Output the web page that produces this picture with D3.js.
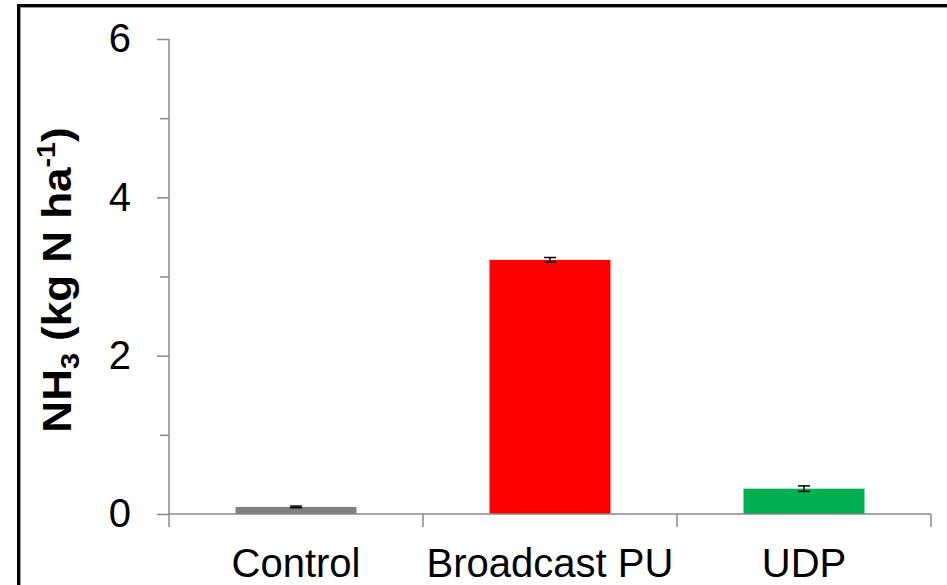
<!DOCTYPE html>
<html><head><meta charset="utf-8">
<script src="https://cdn.jsdelivr.net/npm/d3@7"></script>
<style>body{margin:0;background:#fff;}svg{display:block;}</style>
</head><body>
<script>
const categories = ["Control", "Broadcast PU", "UDP"];
const values = [0.09, 3.21, 0.32];
const errors = [0.01, 0.03, 0.035];
const colors = ["#808080", "#FF0000", "#00B050"];
const majorTicks = [0, 2, 4, 6];
const minorTicks = [1, 3, 5];

const W = 947, H = 585;
const svg = d3.select("body").append("svg").attr("width", W).attr("height", H);
const font = "'Liberation Sans', Arial, sans-serif";

// frame
svg.append("rect").attr("x", 18.5).attr("y", 5.5).attr("width", 1000).attr("height", 1000)
  .attr("fill", "none").attr("stroke", "#000").attr("stroke-width", 3);
svg.append("rect").attr("x", 20.5).attr("y", 7.5).attr("width", 1000).attr("height", 1000)
  .attr("fill", "none").attr("stroke", "#999").attr("stroke-width", 1);

const x0 = 169, x1 = 931, yTop = 39, yBot = 514;
const x = d3.scaleBand().domain(categories).range([x0, x1]).paddingInner(0.5236).paddingOuter(0.2618);
const xOuter = d3.scaleBand().domain(categories).range([x0, x1]);
const y = d3.scaleLinear().domain([0, 6]).range([yBot, yTop]);

const axisColor = "#898989";

// bars
svg.selectAll("rect.bar").data(values).enter().append("rect")
  .attr("class", "bar")
  .attr("x", (d, i) => x(categories[i]))
  .attr("width", x.bandwidth())
  .attr("y", d => y(d))
  .attr("height", d => y(0) - y(d))
  .attr("fill", (d, i) => colors[i]);

// y axis
const yAxis = svg.append("g").attr("transform", `translate(${x0},0)`)
  .call(d3.axisLeft(y).tickValues(majorTicks).tickSize(12).tickPadding(26).tickFormat(d3.format("d")));
yAxis.select(".domain").remove();
yAxis.selectAll(".tick line").attr("stroke", axisColor).attr("stroke-width", 1.5);
yAxis.selectAll(".tick text").attr("font-family", font).attr("font-size", 40).attr("fill", "#000");
svg.append("g").attr("transform", `translate(${x0},0)`)
  .call(d3.axisLeft(y).tickValues(minorTicks).tickSize(9).tickFormat(""))
  .call(g => g.select(".domain").remove())
  .selectAll(".tick line").attr("stroke", axisColor).attr("stroke-width", 1.5);
svg.append("line").attr("x1", x0).attr("x2", x0).attr("y1", yTop).attr("y2", yBot)
  .attr("stroke", axisColor).attr("stroke-width", 1.5);

// x axis
svg.append("line").attr("x1", x0).attr("x2", x1).attr("y1", yBot).attr("y2", yBot)
  .attr("stroke", axisColor).attr("stroke-width", 1.5);
const bounds = categories.map(c => xOuter(c)).concat([x1]);
svg.selectAll("line.xt").data(bounds).enter().append("line")
  .attr("x1", d => d).attr("x2", d => d).attr("y1", yBot).attr("y2", yBot + 13)
  .attr("stroke", axisColor).attr("stroke-width", 1.5);
svg.selectAll("text.xl").data(categories).enter().append("text")
  .attr("x", d => xOuter(d) + xOuter.bandwidth() / 2)
  .attr("y", 577)
  .attr("text-anchor", "middle")
  .attr("font-family", font).attr("font-size", 40).attr("fill", "#000")
  .text(d => d);

// error bars
const eb = svg.append("g").attr("stroke", "#000").attr("stroke-width", 1.5);
values.forEach((v, i) => {
  const cx = x(categories[i]) + x.bandwidth() / 2;
  const e = errors[i];
  eb.append("line").attr("x1", cx).attr("x2", cx).attr("y1", y(v + e)).attr("y2", y(v - e));
  eb.append("line").attr("x1", cx - 6).attr("x2", cx + 6).attr("y1", y(v + e)).attr("y2", y(v + e));
  eb.append("line").attr("x1", cx - 6).attr("x2", cx + 6).attr("y1", y(v - e)).attr("y2", y(v - e));
});

// y label
const yl = svg.append("text")
  .attr("transform", "translate(71,280) rotate(-90) scale(1.1,1)")
  .attr("text-anchor", "middle")
  .attr("font-family", font).attr("font-size", 40).attr("font-weight", "bold").attr("fill", "#000");
yl.append("tspan").text("NH");
yl.append("tspan").attr("font-size", 26).attr("dy", 8).text("3");
yl.append("tspan").attr("dy", -8).text(" (kg N ha");
yl.append("tspan").attr("font-size", 26).attr("dy", -16).text("-1");
yl.append("tspan").attr("dy", 16).text(")");
</script>
</body></html>
